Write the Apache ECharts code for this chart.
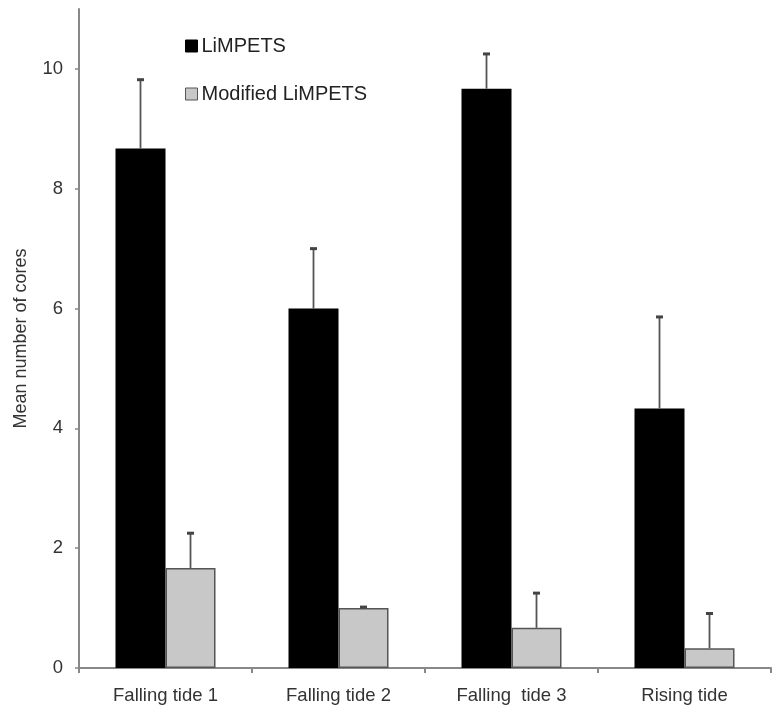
<!DOCTYPE html>
<html>
<head>
<meta charset="utf-8">
<script src="https://cdn.jsdelivr.net/npm/echarts@6/dist/echarts.min.js"></script>
<style>
html,body{margin:0;padding:0;background:#fff;}
#c{width:773px;height:708px;}
</style>
</head>
<body>
<div id="c"></div>
<script>
var categories = ['Falling tide 1', 'Falling tide 2', 'Falling  tide 3', 'Rising tide'];
var seriesNames = ['LiMPETS', 'Modified LiMPETS'];
var limpetsMean = [8.67, 6.0, 9.67, 4.33];
var limpetsErr = [1.15, 1.0, 0.58, 1.53];
var modifiedMean = [1.67, 1.0, 0.67, 0.33];
var modifiedErr = [0.58, 0.0, 0.58, 0.58];
var yTicks = [0, 2, 4, 6, 8, 10];

var BAR_W = 50;
var FONT = 'Liberation Sans, Arial, Helvetica, sans-serif';

function errSeries(means, errs, side) {
  var data = means.map(function (m, i) { return [i, m, m + errs[i]]; });
  return {
    type: 'custom',
    silent: true,
    z: 5,
    data: data,
    renderItem: function (params, api) {
      var base = api.coord([api.value(0), api.value(1)]);
      var top = api.coord([api.value(0), api.value(2)]);
      var x = base[0] + side * BAR_W / 2;
      var capTop = Math.min(top[1], base[1] - 1);
      return {
        type: 'group',
        children: [
          { type: 'line', shape: { x1: x, y1: base[1], x2: x, y2: capTop },
            style: { stroke: '#555', lineWidth: 1.8 } },
          { type: 'line', shape: { x1: x - 3.5, y1: capTop, x2: x + 3.5, y2: capTop },
            style: { stroke: '#444', lineWidth: 3 } }
        ]
      };
    }
  };
}

var chart = echarts.init(document.getElementById('c'));
chart.setOption({
  animation: false,
  backgroundColor: '#fff',
  grid: { left: 79, right: 2, top: 9, bottom: 40, containLabel: false },
  legend: {
    orient: 'vertical',
    left: 180,
    top: 31,
    itemWidth: 12,
    itemHeight: 12,
    itemGap: 28,
    icon: 'rect',
    textStyle: { fontFamily: FONT, fontSize: 20, color: '#222', padding: [0, 0, 0, -1] },
    data: [
      { name: seriesNames[0], itemStyle: { color: '#000', borderColor: '#000', borderWidth: 1 } },
      { name: seriesNames[1], itemStyle: { color: '#c8c8c8', borderColor: '#555', borderWidth: 1 } }
    ]
  },
  xAxis: {
    type: 'category',
    data: categories,
    axisLine: { lineStyle: { color: '#888', width: 2 } },
    axisTick: { show: true, length: 5, lineStyle: { color: '#888', width: 2 } },
    axisLabel: { fontFamily: FONT, fontSize: 18.5, color: '#333', margin: 18 },
    splitLine: { show: false }
  },
  yAxis: {
    type: 'value',
    min: 0,
    max: 11,
    interval: 1,
    name: 'Mean number of cores',
    nameLocation: 'middle',
    nameGap: 49,
    nameRotate: 90,
    nameTextStyle: { fontFamily: FONT, fontSize: 18, color: '#333' },
    axisLine: { show: true, lineStyle: { color: '#888', width: 2 } },
    axisTick: { show: true, length: 4, customValues: yTicks, lineStyle: { color: '#888', width: 1.5 } },
    axisLabel: { fontFamily: FONT, fontSize: 18.5, color: '#333', margin: 16, customValues: yTicks },
    splitLine: { show: false }
  },
  series: [
    {
      name: seriesNames[0], type: 'bar', data: limpetsMean, barWidth: BAR_W, barGap: '0%',
      itemStyle: { color: '#000', borderColor: '#000', borderWidth: 0 }
    },
    {
      name: seriesNames[1], type: 'bar', data: modifiedMean, barWidth: BAR_W, barGap: '0%',
      itemStyle: { color: '#c8c8c8', borderColor: '#555', borderWidth: 1.5 }
    },
    errSeries(limpetsMean, limpetsErr, -1),
    errSeries(modifiedMean, modifiedErr, 1)
  ]
});
</script>
</body>
</html>
